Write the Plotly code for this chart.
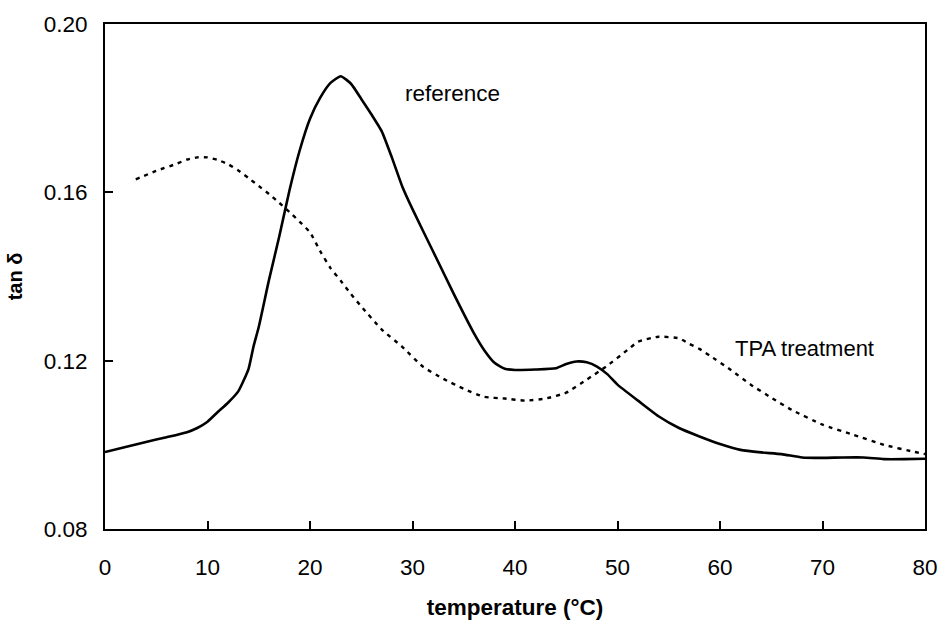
import plotly.graph_objects as go

# Reference sample (solid line)
ref_temp = [0, 2, 4, 6, 8, 9, 10, 11, 12, 13, 14, 14.5, 15, 16, 17, 18, 19, 20, 21, 22,
            23, 24, 25, 26, 27, 28, 29, 30, 32, 34, 36, 37, 38, 39, 40, 42, 44, 45, 46,
            47, 48, 49, 50, 52, 54, 56, 58, 60, 62, 64, 66, 68, 70, 72, 74, 76, 78, 80]
ref_tan = [0.0983, 0.0995, 0.1007, 0.1018, 0.1030, 0.1040, 0.1055, 0.1078, 0.1100, 0.1127,
           0.1180, 0.1235, 0.1280, 0.1392, 0.1495, 0.1605, 0.1700, 0.1775, 0.1825, 0.1860,
           0.1876, 0.1858, 0.1822, 0.1785, 0.1745, 0.1682, 0.1614, 0.1560, 0.1460, 0.1360,
           0.1265, 0.1225, 0.1195, 0.1181, 0.1178, 0.1179, 0.1182, 0.1192, 0.1198, 0.1196,
           0.1186, 0.1168, 0.1143, 0.1105, 0.1068, 0.1040, 0.1020, 0.1002, 0.0988, 0.0982,
           0.0978, 0.0970, 0.0969, 0.0970, 0.0970, 0.0966, 0.0966, 0.0967]

# TPA treatment (dotted line)
tpa_temp = [3, 5, 7, 8, 9, 10, 11, 12, 13, 14, 15, 16, 17, 18, 19, 20, 21, 22, 23, 24, 25,
            27, 29, 31, 33, 35, 37, 39, 41, 43, 45, 47, 49, 51, 52, 54, 56, 57, 58, 59, 61,
            63, 65, 67, 70, 73, 76, 79, 80]
tpa_tan = [0.1631, 0.1651, 0.1668, 0.1678, 0.1683, 0.1683, 0.1677, 0.1667, 0.1652, 0.1634,
           0.1615, 0.1596, 0.1575, 0.1553, 0.1530, 0.1505, 0.1460, 0.1420, 0.1390, 0.1358,
           0.1329, 0.1274, 0.1233, 0.1186, 0.1157, 0.1133, 0.1114, 0.1110, 0.1105, 0.1110,
           0.1124, 0.1155, 0.1188, 0.1226, 0.1245, 0.1257, 0.1253, 0.1240, 0.1228, 0.1212,
           0.1179, 0.1143, 0.1112, 0.1083, 0.1048, 0.1024, 0.1000, 0.0983, 0.0978]

x_ticks = [0, 10, 20, 30, 40, 50, 60, 70, 80]
y_ticks = [0.08, 0.12, 0.16, 0.20]
y_tick_labels = ["0.08", "0.12", "0.16", "0.20"]

FONT = "Liberation Sans, Arial, sans-serif"

fig = go.Figure()
fig.add_trace(go.Scatter(x=ref_temp, y=ref_tan, mode="lines", name="reference",
                         line=dict(color="black", width=2.6, shape="spline", smoothing=0.5)))
fig.add_trace(go.Scatter(x=tpa_temp, y=tpa_tan, mode="lines", name="TPA treatment",
                         line=dict(color="black", width=2.4, dash="4px,5px",
                                   shape="spline", smoothing=0.5)))

fig.add_annotation(x=29.1, y=0.1834, text="reference", showarrow=False,
                   xanchor="left", yanchor="middle",
                   font=dict(family=FONT, size=22.5, color="black"))
fig.add_annotation(x=61.3, y=0.1228, text="TPA treatment", showarrow=False,
                   xanchor="left", yanchor="middle",
                   font=dict(family=FONT, size=22, color="black"))

fig.update_layout(
    width=939, height=621,
    margin=dict(l=105, r=14, t=24, b=92),
    paper_bgcolor="white", plot_bgcolor="white",
    showlegend=False,
    font=dict(family=FONT, size=22, color="black"),
)
fig.update_xaxes(range=[0, 80], tickvals=x_ticks, ticks="inside", ticklen=8, tickwidth=2,
                 tickcolor="black", showline=True, linecolor="black", linewidth=2,
                 mirror=True, showgrid=False, zeroline=False, automargin=False,
                 ticklabelstandoff=17,
                 tickfont=dict(family=FONT, size=22.5),
                 title=dict(text="<b>temperature (°C)</b>", font=dict(family=FONT, size=22.5),
                            standoff=20))
fig.update_yaxes(range=[0.08, 0.20], tickvals=y_ticks, ticktext=y_tick_labels,
                 ticks="inside", ticklen=8, tickwidth=2, tickcolor="black",
                 showline=True, linecolor="black", linewidth=2, mirror=True,
                 showgrid=False, zeroline=False, automargin=False,
                 ticklabelstandoff=11,
                 tickfont=dict(family=FONT, size=22.5),
                 title=dict(text="<b>tan δ</b>", font=dict(family=FONT, size=20),
                            standoff=16))

fig.write_html("out.html", config={"displayModeBar": False},
               post_script="document.body.style.margin='0';")
